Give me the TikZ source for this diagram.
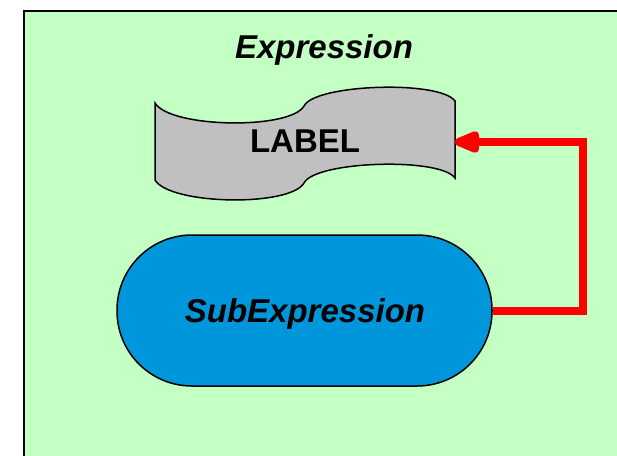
\documentclass[tikz,border=0pt]{standalone}
\usepackage{fontspec}
\setmainfont{Liberation Sans}
\usetikzlibrary{arrows.meta}

\definecolor{framegreen}{RGB}{196,255,196}
\definecolor{tapegray}{RGB}{192,192,192}
\definecolor{subblue}{RGB}{0,150,220}

\begin{document}
\begin{tikzpicture}[x=1pt, y=-1pt,
    title/.style={font=\fontsize{33}{38}\selectfont\bfseries\itshape, anchor=base},
    tape/.style={draw=black, fill=tapegray, line width=1.5pt},
    subbox/.style={draw=black, fill=subblue, line width=1.5pt, rounded corners=75pt,
        minimum width=375pt, minimum height=151pt, inner sep=0pt},
    flow/.style={draw=red, line width=8pt, -{Triangle[length=32pt, width=23pt, round]}}]
    \clip (0,0) rectangle (617,455);
    \fill[white] (0,0) rectangle (617,455);
    \draw[fill=framegreen, line width=2pt] (24,11) rectangle (640,480);
    \node[title] (expr) at (324,58) {Expression};
    % the tape shaped label
    \draw[tape] (155,103) .. controls (170,128) and (290,130) .. (304,106)
        .. controls (315,84) and (440,80) .. (455,101) -- (455,178)
        .. controls (440,157) and (315,161) .. (304,183)
        .. controls (290,207) and (170,205) .. (155,180) -- cycle;
    \node[font=\fontsize{33}{38}\selectfont\bfseries, anchor=base] (lbl) at (305,152) {LABEL};
    \coordinate (lblin) at (455,142);
    \node[subbox] (sub) at (304.5,310.5) {};
    \node[title] (subtxt) at (305,322) {SubExpression};
    \coordinate (bend) at (583,142);
    \draw[flow] (sub.east) -| (bend) -- (lblin);
\end{tikzpicture}
\end{document}
